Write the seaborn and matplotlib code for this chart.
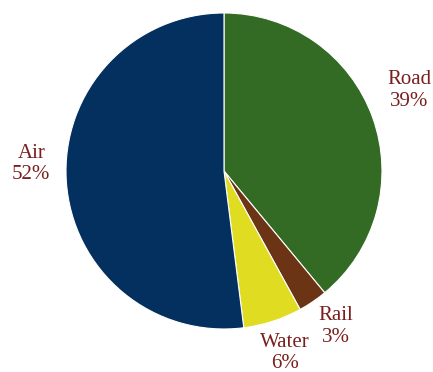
import matplotlib
matplotlib.use("Agg")
import matplotlib.pyplot as plt
import numpy as np
import seaborn as sns

categories = ["Road", "Rail", "Water", "Air"]
shares = [39, 3, 6, 52]
colors = ["#336B25", "#6B3414", "#E0DC22", "#03305F"]

# label placement style (angle nudge in degrees, radial distance)
label_nudge = [3.7, 1.5, 0.5, -5.7]
label_dist = [1.28, 1.215, 1.215, 1.22]

sns.set_theme(style="white")
plt.rcParams["font.family"] = ["Liberation Serif", "DejaVu Serif"]

fig = plt.figure(figsize=(4.33, 3.72), dpi=100)
ax = fig.add_axes([0.1524, 0.1156, 0.7298, 0.8495])
wedges, _ = ax.pie(shares, colors=sns.color_palette(colors), startangle=90,
                   counterclock=False,
                   wedgeprops=dict(edgecolor="white", linewidth=0.8))
for w, c, v, nd, d in zip(wedges, categories, shares, label_nudge, label_dist):
    ang = np.deg2rad((w.theta1 + w.theta2) / 2 + nd)
    ax.text(d * np.cos(ang), d * np.sin(ang), f"{c}\n{v}%", ha="center",
            va="center", color="#7A1F1F", fontsize=15, linespacing=1.2,
            clip_on=False)
ax.set_xlim(-1, 1)
ax.set_ylim(-1, 1)
ax.set_aspect("equal")
fig.savefig("out.png", dpi=100, facecolor="white")
